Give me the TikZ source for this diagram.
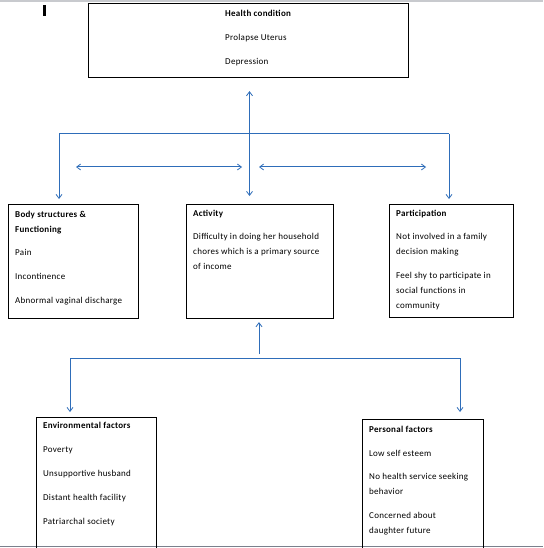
\documentclass[tikz,border=0pt]{standalone}
\usepackage{fontspec}
\setmainfont{Carlito}[LetterSpace=3]
\usetikzlibrary{arrows.meta}
\definecolor{lineblue}{RGB}{46,109,185}
\definecolor{bargray}{RGB}{200,202,206}
\definecolor{edgegray}{RGB}{122,128,140}
\tikzset{
  box/.style={draw=black, line width=1.1pt, anchor=north west, inner sep=0pt},
  txt/.style={anchor=north west, inner sep=0pt, align=left, font=\fontsize{9}{15}\selectfont},
  conn/.style={draw=lineblue, line width=1pt},
  tip/.style={-{Straight Barb[length=4pt,width=6pt,line width=0.8pt]}},
  dtip/.style={{Straight Barb[length=4pt,width=6pt,line width=0.8pt]}-{Straight Barb[length=4pt,width=6pt,line width=0.8pt]}}
}
\begin{document}
\begin{tikzpicture}[x=1pt,y=-1pt]
\clip (0,0) rectangle (543,548);
\fill[white] (0,0) rectangle (543,548);
\fill[bargray] (0,0) rectangle (543,2);
\fill[black] (43,5) rectangle (45.5,16);
\draw[edgegray, line width=1.5pt] (0,546.5) -- (543,546.5);

% boxes
\node[box, minimum width=320pt, minimum height=74pt] (health) at (88,3) {};
\node[box, minimum width=130pt, minimum height=114pt] (body) at (8,204) {};
\node[box, minimum width=147pt, minimum height=114pt] (act) at (186,204) {};
\node[box, minimum width=124pt, minimum height=113pt] (part) at (389,204) {};
\node[box, minimum width=120pt, minimum height=140pt] (env) at (36,417) {};
\node[box, minimum width=121pt, minimum height=140pt] (pers) at (362,419) {};

% texts
\node[txt] (thealth) at (225,10) {\textbf{Health condition}\\[9pt]Prolapse Uterus\\[9pt]Depression};
\node[txt] (tbody) at (15,210.5) {\textbf{Body structures \&}\\\textbf{Functioning}\\[8pt]Pain\\[9pt]Incontinence\\[9pt]Abnormal vaginal discharge};
\node[txt] (tact) at (193,209.5) {\textbf{Activity}\\[8pt]Difficulty in doing her household\\chores which is a primary source\\of income};
\node[txt] (tpart) at (396,209.5) {\textbf{Participation}\\[8pt]Not involved in a family\\decision making\\[9pt]Feel shy to participate in\\social functions in\\community};
\node[txt] (tenv) at (43,421.5) {\textbf{Environmental factors}\\[9pt]Poverty\\[9pt]Unsupportive husband\\[9pt]Distant health facility\\[9pt]Patriarchal society};
\node[txt] (tpers) at (369,425.5) {\textbf{Personal factors}\\[9pt]Low self esteem\\[8pt]No health service seeking\\behavior\\[9pt]Concerned about\\daughter future};

% upper connectors
\coordinate (hub) at (249.5,134);
\coordinate (lt) at (59,134);
\coordinate (rt) at (449,134);
\draw[conn, dtip, shorten <=13pt, shorten >=8pt] (health.south -| hub) -- (act.north -| hub);
\draw[conn, tip, shorten >=5pt] (lt) -- (body.north -| lt);
\draw[conn, tip, shorten >=5pt] (rt) -- (part.north -| rt);
\draw[conn] (lt) -- (rt);
\coordinate (la) at (76,167);
\coordinate (lb) at (242,167);
\coordinate (ra) at (259,167);
\coordinate (rb) at (426,167);
\draw[conn, dtip] (la) -- (lb);
\draw[conn, dtip] (ra) -- (rb);

% lower connectors
\coordinate (bhub) at (259,354);
\coordinate (bl) at (70,358);
\coordinate (br) at (460,358);
\draw[conn, tip, shorten >=3pt] (bhub) -- (act.south -| bhub);
\draw[conn, tip, shorten >=5pt] (bl) -- (env.north -| bl);
\draw[conn, tip, shorten >=7pt] (br) -- (pers.north -| br);
\draw[conn] (bl) -- (br);
\end{tikzpicture}
\end{document}
